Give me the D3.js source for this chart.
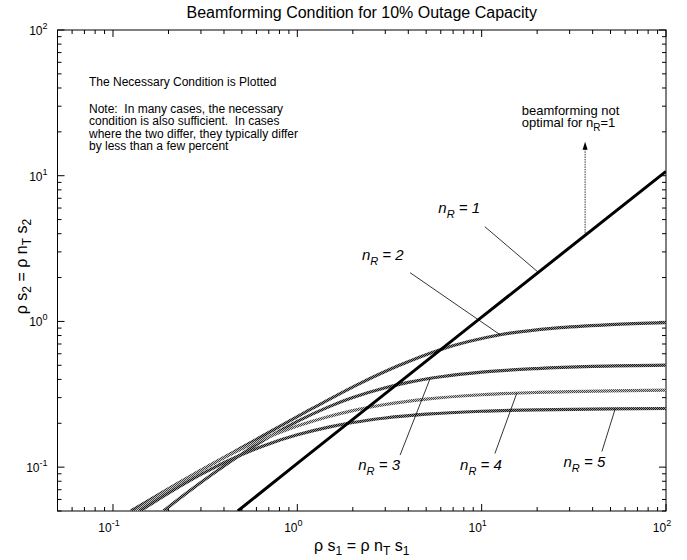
<!DOCTYPE html>
<html>
<head>
<meta charset="utf-8">
<script src="https://cdn.jsdelivr.net/npm/d3@7/dist/d3.min.js"></script>
<style>
  body { margin: 0; background: #fff; }
  text { font-family: "Liberation Sans", Arial, Helvetica, sans-serif; fill: #000; white-space: pre; }
</style>
</head>
<body>
<svg width="687" height="560"></svg>
<script>
// data (log-log)
var xR1 = [0.475, 1, 10, 100];
var yR1 = [0.05, 0.106, 1.07, 10.7];

var xR2 = [0.125, 0.241, 0.6, 1.2, 2.19, 3.5, 5.95, 12.6, 25, 50, 100];
var yR2 = [0.05, 0.0815, 0.155, 0.252, 0.376, 0.494, 0.64, 0.81, 0.9, 0.95, 0.98];

var xR3 = [0.188, 0.25, 0.35, 0.5, 0.7, 1, 1.5, 2, 3, 4, 6, 10, 20, 40, 100];
var yR3 = [0.05, 0.0661, 0.0904, 0.1231, 0.1605, 0.2059, 0.2612, 0.30, 0.3505, 0.3814, 0.417, 0.449, 0.475, 0.491, 0.501];

var xR4 = [0.133, 0.2, 0.3, 0.5, 0.7, 1, 1.5, 2, 3, 5, 10, 20, 50, 100];
var yR4 = [0.05, 0.070, 0.0951, 0.1335, 0.1614, 0.1914, 0.2237, 0.2444, 0.2692, 0.2931, 0.3139, 0.3255, 0.3335, 0.338];

var xR5 = [0.14, 0.2, 0.3, 0.5, 0.7, 1, 1.5, 2, 3, 5, 10, 20, 50, 100];
var yR5 = [0.05, 0.0664, 0.0893, 0.122, 0.1443, 0.1667, 0.189, 0.2024, 0.2175, 0.2309, 0.2418, 0.2475, 0.2509, 0.2525];

var seriesNames = ["1", "2", "3", "4", "5"];

// label text pos, leader start, leader end (data units)
var labelX  = [5.82, 2.24, 2.14, 7.64, 27.8];
var labelY  = [5.52, 2.64, 0.0955, 0.0955, 0.1007];
var leadX0  = [10.4, 4.09, 3.61, 11.8, 44.9];
var leadY0  = [4.47, 2.16, 0.121, 0.124, 0.128];
var leadX1  = [20.3, 12.6, 5.25, 15.5, 53];

var svg = d3.select("svg"),
    width = +svg.attr("width"),
    height = +svg.attr("height");

var plotL = 57.5, plotR = 666, plotT = 30, plotB = 511;

var x = d3.scaleLog().domain([0.05, 100]).range([plotL, plotR]);
var y = d3.scaleLog().domain([0.05, 100]).range([plotB, plotT]);

function isMajor(v) {
  var l = Math.log10(v);
  return Math.abs(l - Math.round(l)) < 1e-9;
}

var defs = svg.append("defs");
defs.append("clipPath").attr("id", "clip")
  .append("rect").attr("x", plotL).attr("y", plotT)
  .attr("width", plotR - plotL).attr("height", plotB - plotT);

// checkered fills that mimic the dithered printed lines
function checker(id, dark, light) {
  var p = defs.append("pattern").attr("id", id)
    .attr("patternUnits", "userSpaceOnUse")
    .attr("width", 2).attr("height", 2);
  p.append("rect").attr("width", 2).attr("height", 2).attr("fill", light);
  p.append("rect").attr("width", 1).attr("height", 1).attr("fill", dark);
  p.append("rect").attr("x", 1).attr("y", 1).attr("width", 1).attr("height", 1).attr("fill", dark);
}
checker("hatchDark", "#1a1a1a", "#8c8c8c");
checker("hatchLight", "#444", "#c8c8c8");

// title
svg.append("text")
  .attr("x", (plotL + plotR) / 2).attr("y", 18)
  .attr("text-anchor", "middle")
  .style("font-size", "16px")
  .text("Beamforming Condition for 10% Outage Capacity");

// ticks on all four sides, pointing in
var xt = x.ticks(), yt = y.ticks();
var tickG = svg.append("g").attr("stroke", "#000").attr("stroke-width", 1);
xt.forEach(function(v) {
  var len = isMajor(v) ? 7 : 4;
  tickG.append("line").attr("x1", x(v)).attr("x2", x(v)).attr("y1", plotB).attr("y2", plotB - len);
  tickG.append("line").attr("x1", x(v)).attr("x2", x(v)).attr("y1", plotT).attr("y2", plotT + len);
});
yt.forEach(function(v) {
  var len = isMajor(v) ? 7 : 4;
  tickG.append("line").attr("y1", y(v)).attr("y2", y(v)).attr("x1", plotL).attr("x2", plotL + len);
  tickG.append("line").attr("y1", y(v)).attr("y2", y(v)).attr("x1", plotR).attr("x2", plotR - len);
});

// tick labels 10^k
function powLabel(sel, v) {
  var p = Math.round(Math.log10(v));
  sel.append("tspan").text("10");
  sel.append("tspan").attr("dy", -6).style("font-size", "9px").text(p);
}
xt.filter(isMajor).forEach(function(v) {
  var t = svg.append("text").attr("x", x(v) - 4).attr("y", 532)
    .attr("text-anchor", "middle").style("font-size", "12px");
  powLabel(t, v);
});
yt.filter(isMajor).forEach(function(v) {
  var t = svg.append("text").attr("x", plotL - 10).attr("y", y(v) + 5)
    .attr("text-anchor", "end").style("font-size", "12px");
  powLabel(t, v);
});

// frame
svg.append("rect").attr("x", plotL).attr("y", plotT)
  .attr("width", plotR - plotL).attr("height", plotB - plotT)
  .attr("fill", "none").attr("stroke", "#000").attr("stroke-width", 1);

// axis labels
function subLabel(t, parts) {
  parts.forEach(function(p, i) {
    var ts = t.append("tspan").text(p);
    if (i % 2 == 1) ts.attr("dy", 4).style("font-size", "12px");
    else if (i > 0) ts.attr("dy", -4);
  });
}
var xl = svg.append("text").attr("x", (plotL + plotR) / 2).attr("y", 551)
  .attr("text-anchor", "middle").style("font-size", "16px");
subLabel(xl, ["\u03c1 s", "1", " = \u03c1 n", "T", " s", "1"]);

var yl = svg.append("text")
  .attr("transform", "translate(27," + ((plotT + plotB) / 2 - 4) + ") rotate(-90)")
  .attr("text-anchor", "middle").style("font-size", "16px");
subLabel(yl, ["\u03c1 s", "2", " = \u03c1 n", "T", " s", "2"]);

// curves
var line = d3.line()
  .x(function(d) { return x(d[0]); })
  .y(function(d) { return y(d[1]); })
  .curve(d3.curveMonotoneX);

function pairs(xs, ys) { return xs.map(function(v, i) { return [v, ys[i]]; }); }

var curves = [
  { xs: xR2, ys: yR2, color: "url(#hatchDark)", w: 3.2 },
  { xs: xR3, ys: yR3, color: "url(#hatchDark)", w: 3.2 },
  { xs: xR4, ys: yR4, color: "url(#hatchLight)", w: 3.2 },
  { xs: xR5, ys: yR5, color: "url(#hatchDark)", w: 3.2 },
  { xs: xR1, ys: yR1, color: "#000", w: 3 }
];
var plot = svg.append("g").attr("clip-path", "url(#clip)");
curves.forEach(function(c) {
  plot.append("path")
    .datum(pairs(c.xs, c.ys))
    .attr("d", line)
    .attr("fill", "none")
    .attr("stroke", c.color)
    .attr("stroke-width", c.w);
});

// curve labels with leader lines
var allX = [xR1, xR2, xR3, xR4, xR5], allY = [yR1, yR2, yR3, yR4, yR5];
function valueAt(xs, ys, xv) {
  var lx = xs.map(Math.log10), ly = ys.map(Math.log10);
  var s = d3.scaleLinear().domain(lx).range(ly);
  return Math.pow(10, s(Math.log10(xv)));
}
seriesNames.forEach(function(n, i) {
  var yEnd = valueAt(allX[i], allY[i], leadX1[i]);
  svg.append("line")
    .attr("x1", x(leadX0[i])).attr("y1", y(leadY0[i]))
    .attr("x2", x(leadX1[i])).attr("y2", y(yEnd))
    .attr("stroke", "#000").attr("stroke-width", 0.8);
  var t = svg.append("text").attr("x", x(labelX[i])).attr("y", y(labelY[i]))
    .style("font-size", "15px").style("font-style", "italic");
  t.append("tspan").text("n");
  t.append("tspan").attr("dy", 5).style("font-size", "11px").text("R");
  t.append("tspan").attr("dy", -5).text(" = " + n);
});

// annotation text, upper left
var noteLines = ["Note:  In many cases, the necessary",
                 "condition is also sufficient.  In cases",
                 "where the two differ, they typically differ",
                 "by less than a few percent"];
svg.append("text").attr("x", 89).attr("y", 86).style("font-size", "12px")
  .text("The Necessary Condition is Plotted");
noteLines.forEach(function(s, i) {
  svg.append("text").attr("x", 89).attr("y", 113 + i * 12.4)
    .style("font-size", "12px").text(s);
});

// beamforming-not-optimal arrow
var arrowX = 36.4;
var arrowTop = 17.1;
var arrowBase = valueAt(xR1, yR1, arrowX);
svg.append("line")
  .attr("x1", x(arrowX)).attr("x2", x(arrowX))
  .attr("y1", y(arrowBase)).attr("y2", y(arrowTop) + 6)
  .attr("stroke", "#000").attr("stroke-width", 0.8)
  .attr("stroke-dasharray", "1.5,1");
svg.append("path")
  .attr("d", "M" + x(arrowX) + "," + y(arrowTop) +
    " l-2.5,8 l5,0 z")
  .attr("fill", "#000");

svg.append("text").attr("x", x(16.5)).attr("y", y(26.1))
  .style("font-size", "13px").text("beamforming not");
var bt2 = svg.append("text").attr("x", x(16.5)).attr("y", y(26.1) + 12)
  .style("font-size", "13px");
bt2.append("tspan").text("optimal for n");
bt2.append("tspan").attr("dy", 4).style("font-size", "10px").text("R");
bt2.append("tspan").attr("dy", -4).text("=1");
</script>
</body>
</html>
